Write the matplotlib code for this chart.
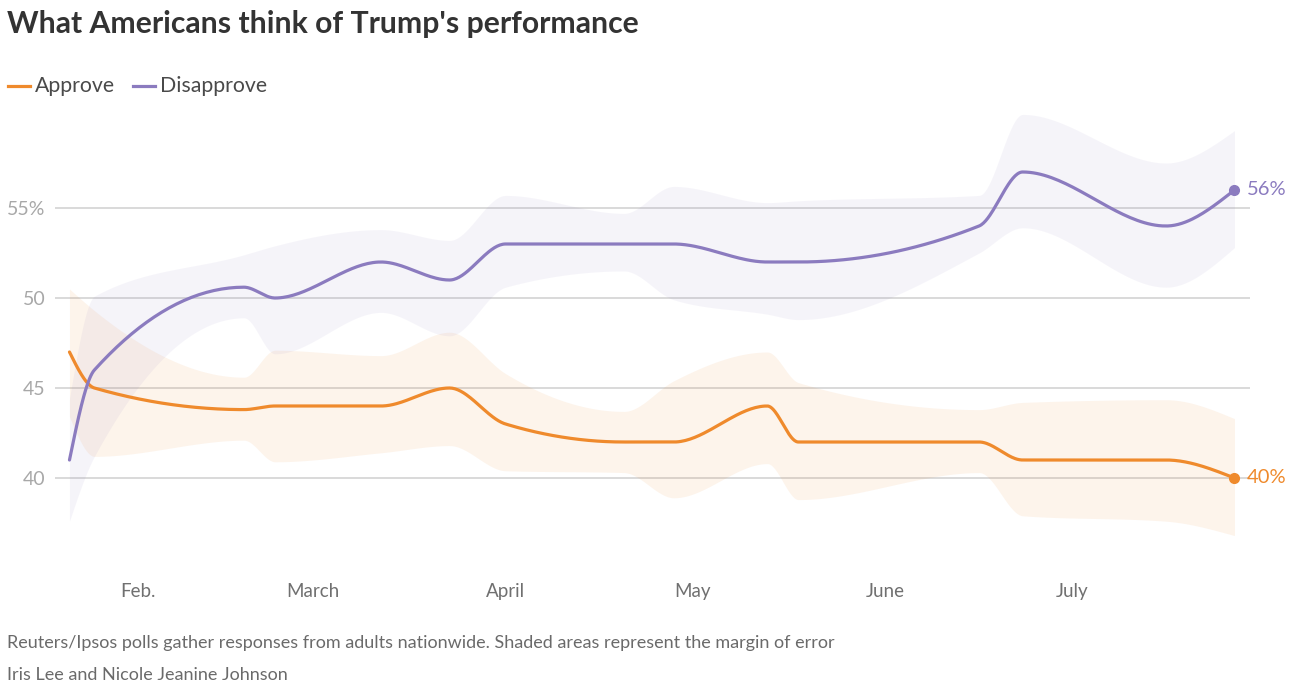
import matplotlib
matplotlib.use("Agg")
import matplotlib.pyplot as plt
import matplotlib.dates as mdates
from matplotlib.lines import Line2D
import numpy as np
from datetime import datetime

plt.rcParams['font.family'] = ['Lato', 'DejaVu Sans']

# poll dates and readings (percent)
dates = ['2025-01-21', '2025-01-25', '2025-02-18', '2025-02-23', '2025-03-12',
         '2025-03-23', '2025-04-01', '2025-04-20', '2025-04-28', '2025-05-13',
         '2025-05-18', '2025-06-16', '2025-06-23', '2025-07-16', '2025-07-27']
approve = [47, 45, 43.8, 44, 44, 45, 43, 42, 42, 44, 42, 42, 41, 41, 40]
approve_lo = [43.4, 41.2, 42.1, 40.9, 41.4, 41.8, 40.4, 40.3, 38.9, 40.8,
              38.8, 40.3, 37.9, 37.6, 36.8]
approve_hi = [50.5, 49.3, 45.6, 47.1, 46.8, 48.1, 45.8, 43.7, 45.4, 47.0,
              45.3, 43.8, 44.2, 44.35, 43.3]
disapprove = [41, 46, 50.6, 50, 52, 51, 53, 53, 53, 52, 52, 54, 57, 54, 56]
disapprove_lo = [37.6, 41.2, 48.9, 46.9, 49.2, 47.9, 50.6, 51.5, 49.9, 49.1,
                 48.8, 52.5, 53.9, 50.6, 52.8]
disapprove_hi = [44.4, 50.1, 52.4, 52.9, 53.8, 53.2, 55.7, 54.7, 56.2, 55.3,
                 55.4, 55.7, 60.2, 57.5, 59.3]

month_ticks = ['2025-02-01', '2025-03-01', '2025-04-01', '2025-05-01',
               '2025-06-01', '2025-07-01']
month_labels = ['Feb.', 'March', 'April', 'May', 'June', 'July']
y_ticks = [40, 45, 50, 55]
y_labels = ['40', '45', '50', '55%']

ORANGE = '#ef8a2c'
PURPLE = '#8b7bbf'


def monotone(x, y, n=40):
    """d3-style monotoneX interpolation, returns dense x, y."""
    x = np.asarray(x, float)
    y = np.asarray(y, float)
    h = np.diff(x)
    s = np.diff(y) / h
    m = np.zeros(len(x))
    for i in range(1, len(x) - 1):
        s0, s1 = s[i - 1], s[i]
        p = (s0 * h[i] + s1 * h[i - 1]) / (h[i - 1] + h[i])
        m[i] = (np.sign(s0) + np.sign(s1)) * min(abs(s0), abs(s1), 0.5 * abs(p))
    m[0] = (3 * s[0] - m[1]) / 2
    m[-1] = (3 * s[-1] - m[-2]) / 2
    xs, ys = [], []
    for i in range(len(h)):
        t = np.linspace(0, 1, n, endpoint=(i == len(h) - 1))
        h00 = 2 * t**3 - 3 * t**2 + 1
        h10 = t**3 - 2 * t**2 + t
        h01 = -2 * t**3 + 3 * t**2
        h11 = t**3 - t**2
        xs.append(x[i] + t * h[i])
        ys.append(h00 * y[i] + h10 * h[i] * m[i] + h01 * y[i + 1] + h11 * h[i] * m[i + 1])
    return np.concatenate(xs), np.concatenate(ys)


xd = mdates.date2num([datetime.strptime(d, '%Y-%m-%d') for d in dates])
feb1 = mdates.date2num(datetime(2025, 2, 1))

W, H = 1306, 688
fig = plt.figure(figsize=(W / 100, H / 100), dpi=100)
ax = fig.add_axes([55 / W, (H - 560) / H, 1195 / W, 460 / H])

for lo, hi, c, a in [(approve_lo, approve_hi, ORANGE, 0.09),
                     (disapprove_lo, disapprove_hi, PURPLE, 0.08)]:
    bx, blo = monotone(xd, lo)
    _, bhi = monotone(xd, hi)
    ax.fill_between(bx, blo, bhi, color=c, alpha=a, lw=0, zorder=1)

for vals, c in [(approve, ORANGE), (disapprove, PURPLE)]:
    lx, ly = monotone(xd, vals)
    ax.plot(lx, ly, color=c, lw=2.3, zorder=3, solid_capstyle='round')
    ax.plot(xd[-1], vals[-1], 'o', color=c, ms=7, zorder=4)
    ax.annotate('{:.0f}%'.format(vals[-1]), xy=(xd[-1], vals[-1]), xytext=(9, 0),
                textcoords='offset points', va='center', ha='left',
                color=c, fontsize=14.5)

for yv in y_ticks:
    ax.axhline(yv, color='#cfcfcf', lw=1.1, zorder=0)

ax.set_xlim(feb1 - 83 / 6.23, feb1 + 1112 / 6.23)
ax.set_ylim(40 - 82 / 18, 40 + 378 / 18)

ax.set_yticks(y_ticks)
ax.set_yticklabels(y_labels)
ax.set_xticks(mdates.date2num([datetime.strptime(d, '%Y-%m-%d') for d in month_ticks]))
ax.set_xticklabels(month_labels)
ax.tick_params(axis='y', length=0, pad=7, labelsize=14, labelcolor='#a8a8a8')
ax.tick_params(axis='x', length=0, pad=16.5, labelsize=13.5, labelcolor='#707070')
for sp in ax.spines.values():
    sp.set_visible(False)
ax.patch.set_alpha(0)

# title and legend
fig.text(7 / W, 1 - 24 / H, "What Americans think of Trump's performance",
         fontsize=21.7, fontweight='bold', color='#333333', va='center', ha='left')
fig.add_artist(Line2D([8 / W, 30 / W], [1 - 86 / H] * 2, color=ORANGE, lw=2.3))
fig.text(35 / W, 1 - 86 / H, 'Approve', fontsize=15.3, color='#4a4a4a', va='center')
fig.add_artist(Line2D([133 / W, 155 / W], [1 - 86 / H] * 2, color=PURPLE, lw=2.3))
fig.text(160 / W, 1 - 86 / H, 'Disapprove', fontsize=15.3, color='#4a4a4a', va='center')

# footer
fig.text(7 / W, 1 - 643 / H, 'Reuters/Ipsos polls gather responses from adults nationwide. '
         'Shaded areas represent the margin of error', fontsize=13, color='#6a6a6a',
         va='center')
fig.text(7 / W, 1 - 675 / H, 'Iris Lee and Nicole Jeanine Johnson', fontsize=13,
         color='#6a6a6a', va='center')

fig.savefig('out.png', dpi=100, facecolor='white')
